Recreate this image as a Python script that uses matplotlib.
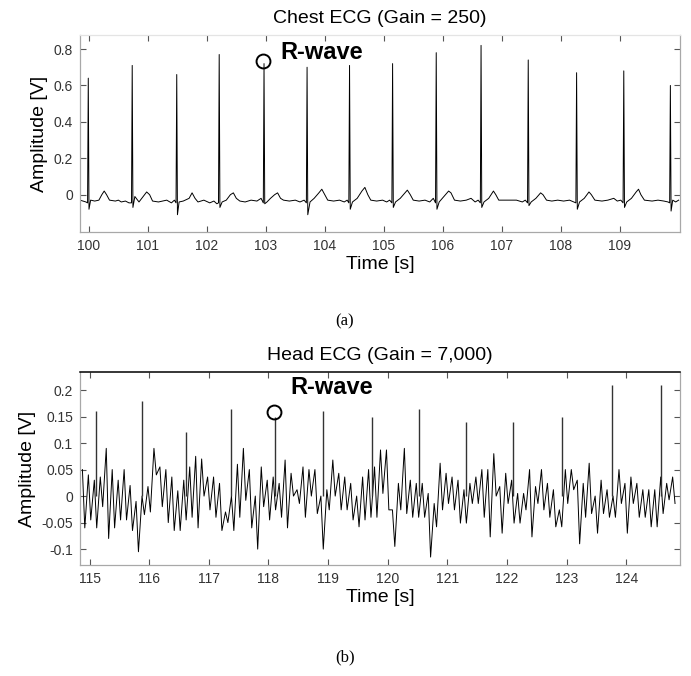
import numpy as np
import matplotlib
matplotlib.use("Agg")
import matplotlib.pyplot as plt
from matplotlib.ticker import FuncFormatter

plt.rcParams['font.family'] = ['Liberation Sans', 'DejaVu Sans']

# ── chest ECG: R-peaks (time, amplitude, S-dip) ──────────────────────────────
chest_r_t   = [99.99, 100.735, 101.49, 102.21, 102.97, 103.70, 104.42,
               105.15, 105.89, 106.65, 107.45, 108.27, 109.07, 109.86]
chest_r_amp = [0.64, 0.71, 0.66, 0.77, 0.72, 0.70, 0.71,
               0.72, 0.78, 0.82, 0.74, 0.67, 0.68, 0.60]
chest_s_amp = [-0.08, -0.07, -0.11, -0.07, -0.05, -0.11, -0.08,
               -0.07, -0.08, -0.07, -0.06, -0.08, -0.07, -0.09]

# baseline (P / T waves)
chest_bl_t = [99.85, 99.9, 99.95, 100.03, 100.1, 100.17, 100.22, 100.26, 100.3, 100.35,
              100.45, 100.5, 100.55, 100.62, 100.68,
              100.78, 100.85, 100.92, 100.98, 101.03, 101.08, 101.18, 101.25, 101.32, 101.4, 101.45,
              101.53, 101.6, 101.7, 101.75, 101.8, 101.85, 101.95, 102.05, 102.12, 102.17,
              102.26, 102.33, 102.4, 102.45, 102.5, 102.56, 102.65, 102.75, 102.85, 102.92,
              103.02, 103.08, 103.15, 103.2, 103.25, 103.3, 103.4, 103.5, 103.58, 103.65,
              103.75, 103.82, 103.9, 103.95, 104.0, 104.05, 104.15, 104.25, 104.33, 104.38,
              104.47, 104.55, 104.63, 104.68, 104.73, 104.78, 104.88, 104.98, 105.05, 105.1,
              105.2, 105.28, 105.36, 105.4, 105.45, 105.5, 105.6, 105.7, 105.78, 105.84,
              105.94, 106.02, 106.1, 106.14, 106.2, 106.3, 106.4, 106.48, 106.55, 106.6,
              106.7, 106.78, 106.86, 106.9, 106.95, 107.1, 107.25, 107.35, 107.4,
              107.5, 107.58, 107.66, 107.7, 107.76, 107.85, 107.95, 108.05, 108.15, 108.22,
              108.32, 108.4, 108.48, 108.52, 108.58, 108.7, 108.8, 108.9, 108.96, 109.02,
              109.12, 109.2, 109.28, 109.32, 109.36, 109.42, 109.55, 109.65, 109.75, 109.82,
              109.9, 109.95, 110.0]
chest_bl_v = [-0.03, -0.035, -0.04, -0.03, -0.035, -0.03, 0.0, 0.02, 0.0, -0.03,
              -0.035, -0.03, -0.04, -0.035, -0.045,
              -0.01, -0.04, -0.01, 0.015, 0.0, -0.035, -0.04, -0.035, -0.03, -0.045, -0.03,
              -0.04, -0.035, -0.02, 0.01, -0.02, -0.04, -0.03, -0.045, -0.035, -0.05,
              -0.04, -0.03, 0.0, 0.01, -0.02, -0.035, -0.04, -0.03, -0.035, -0.02,
              -0.04, -0.02, 0.0, 0.01, -0.02, -0.03, -0.035, -0.03, -0.04, -0.03,
              -0.04, -0.02, 0.01, 0.03, 0.0, -0.03, -0.035, -0.03, -0.04, -0.03,
              -0.04, -0.02, 0.02, 0.04, 0.0, -0.03, -0.035, -0.03, -0.04, -0.03,
              -0.04, -0.02, 0.01, 0.025, 0.0, -0.03, -0.035, -0.03, -0.04, -0.02,
              -0.04, -0.01, 0.02, 0.01, -0.03, -0.035, -0.03, -0.02, -0.04, -0.03,
              -0.04, -0.02, 0.02, 0.0, -0.03, -0.03, -0.03, -0.04, -0.03,
              -0.04, -0.02, 0.01, 0.0, -0.03, -0.035, -0.03, -0.035, -0.03, -0.04,
              -0.04, -0.02, 0.015, 0.0, -0.03, -0.035, -0.03, -0.02, -0.035, -0.03,
              -0.04, -0.02, 0.015, 0.03, 0.0, -0.03, -0.035, -0.03, -0.035, -0.04,
              -0.03, -0.04, -0.03]

# ── head ECG: per 0.1 s bin (start 114.85) upper / lower excursion ──────────
head_bin_t0 = 114.85
head_hi = [0.05, 0.04, 0.03, 0.036, 0.09, 0.05, 0.03, 0.05, 0.02, -0.01,
           0.0, 0.018, 0.09, 0.055, 0.05, 0.036, 0.01, 0.03, 0.055, 0.075,
           0.07, 0.036, 0.036, 0.024, -0.03, 0.0, 0.06, 0.09, 0.05, 0.0,
           0.055, 0.03, 0.036, 0.024, 0.068, 0.043, 0.012, 0.055, 0.05, 0.05,
           0.0, 0.012, 0.068, 0.043, 0.036, 0.024, 0.0, 0.036, 0.05, 0.055,
           0.087, 0.087, -0.026, 0.024, 0.09, 0.03, 0.024, 0.024, 0.005, -0.014,
           0.062, 0.043, 0.036, 0.03, 0.012, 0.024, 0.036, 0.05, 0.05, 0.08,
           0.018, 0.043, 0.03, 0.005, 0.005, 0.05, 0.018, 0.05, 0.024, 0.012,
           -0.026, 0.05, 0.05, 0.03, 0.024, 0.062, 0.0, 0.03, 0.012, 0.0,
           0.05, 0.024, 0.036, 0.024, 0.012, 0.012, 0.012, 0.036, 0.024, 0.036]
head_lo = [-0.06, -0.045, -0.06, -0.02, -0.08, -0.06, -0.045, -0.045, -0.065, -0.105,
           -0.035, -0.03, 0.04, -0.02, -0.05, -0.065, -0.065, -0.045, -0.04, -0.06,
           0.0, -0.026, -0.04, -0.065, -0.05, -0.065, -0.04, -0.008, -0.06, -0.10,
           -0.02, -0.045, -0.026, -0.04, -0.06, 0.0, -0.014, -0.04, 0.0, -0.033,
           -0.10, -0.026, 0.0, -0.026, -0.026, -0.045, -0.058, -0.045, -0.04, -0.04,
           0.005, -0.026, -0.095, -0.026, -0.033, -0.04, -0.04, -0.04, -0.115, -0.058,
           -0.026, -0.014, -0.026, -0.051, -0.051, -0.014, -0.014, -0.04, -0.077, 0.0,
           -0.07, -0.014, -0.051, -0.051, -0.026, -0.077, -0.014, -0.026, -0.04, -0.058,
           -0.058, -0.014, 0.012, -0.09, -0.04, -0.033, -0.07, -0.033, -0.04, -0.04,
           -0.014, -0.07, -0.014, -0.04, -0.04, -0.058, -0.058, -0.033, -0.007, -0.014]

# isolated tall spikes
head_spk_t = [115.11, 115.885, 116.62, 117.365, 118.11, 118.92, 119.73,
              120.525, 121.32, 122.10, 122.925, 123.76, 124.585]
head_spk_v = [0.16, 0.18, 0.12, 0.165, 0.15, 0.16, 0.15,
              0.165, 0.14, 0.14, 0.15, 0.21, 0.21]


def chest_trace():
    t = list(chest_bl_t)
    v = list(chest_bl_v)
    for rt, ra, sa in zip(chest_r_t, chest_r_amp, chest_s_amp):
        t += [rt - 0.012, rt, rt + 0.012]
        v += [-0.045, ra, sa]
    order = np.argsort(t)
    return np.array(t)[order], np.array(v)[order]


def head_trace():
    t, v = [], []
    for k, (hi, lo) in enumerate(zip(head_hi, head_lo)):
        t0 = head_bin_t0 + 0.1 * k
        t += [t0 + 0.03, t0 + 0.07]
        v += [hi, lo]
    return np.array(t), np.array(v)


def style_axes(ax, top_black=False):
    for side, sp in ax.spines.items():
        sp.set_color('#a8a8a8')
        sp.set_linewidth(0.9)
    if top_black:
        ax.spines['top'].set_color('black')
        ax.spines['top'].set_linewidth(1.1)
    else:
        ax.spines['top'].set_color('#e4e4e4')
    ax.tick_params(direction='in', top=True, right=True, length=4,
                   width=0.8, color='#555555', labelsize=10,
                   labelcolor='#333333', pad=5)
    ax.yaxis.set_major_formatter(FuncFormatter(lambda y, _: f"{y:g}"))


fig = plt.figure(figsize=(6.91, 6.76), dpi=100)

# ── (a) chest ──────────────────────────────────────────────────────────────
ax1 = fig.add_axes([0.1158, 0.6568, 0.868, 0.2914])
ct, cv = chest_trace()
ax1.plot(ct, cv, color='black', lw=0.7)
ax1.set_xlim(99.85, 110.02)
ax1.set_ylim(-0.205, 0.877)
ax1.set_xticks(range(100, 110))
ax1.set_yticks([0, 0.2, 0.4, 0.6, 0.8])
style_axes(ax1)
ax1.set_title("Chest ECG (Gain = 250)", fontsize=14, pad=9)
ax1.set_xlabel("Time [s]", fontsize=14, labelpad=2)
ax1.set_ylabel("Amplitude [V]", fontsize=14, labelpad=4)
ax1.plot([102.95], [0.735], 'o', ms=10, mfc='none', mec='black', mew=1.4)
ax1.text(103.24, 0.78, "R-wave", fontsize=17, fontweight='bold', va='center')

# ── (b) head ───────────────────────────────────────────────────────────────
ax2 = fig.add_axes([0.1158, 0.1642, 0.868, 0.2855])
ht, hv = head_trace()
ax2.plot(ht, hv, color='black', lw=0.7)
ax2.vlines(head_spk_t, 0, head_spk_v, color='#333333', lw=1.0)
ax2.set_xlim(114.84, 124.9)
ax2.set_ylim(-0.13, 0.234)
ax2.set_xticks(range(115, 125))
ax2.set_yticks([-0.1, -0.05, 0, 0.05, 0.1, 0.15, 0.2])
style_axes(ax2, top_black=True)
ax2.set_title("Head ECG (Gain = 7,000)", fontsize=14, pad=9)
ax2.set_xlabel("Time [s]", fontsize=14, labelpad=2)
ax2.set_ylabel("Amplitude [V]", fontsize=14, labelpad=4)
ax2.plot([118.1], [0.158], 'o', ms=10, mfc='none', mec='black', mew=1.4)
ax2.text(118.36, 0.204, "R-wave", fontsize=17, fontweight='bold', va='center')

fig.text(0.499, 0.524, "(a)", fontsize=12, family='Liberation Serif',
         ha='center', va='center')
fig.text(0.499, 0.028, "(b)", fontsize=12, family='Liberation Serif',
         ha='center', va='center')

fig.savefig("out.png", dpi=100)
